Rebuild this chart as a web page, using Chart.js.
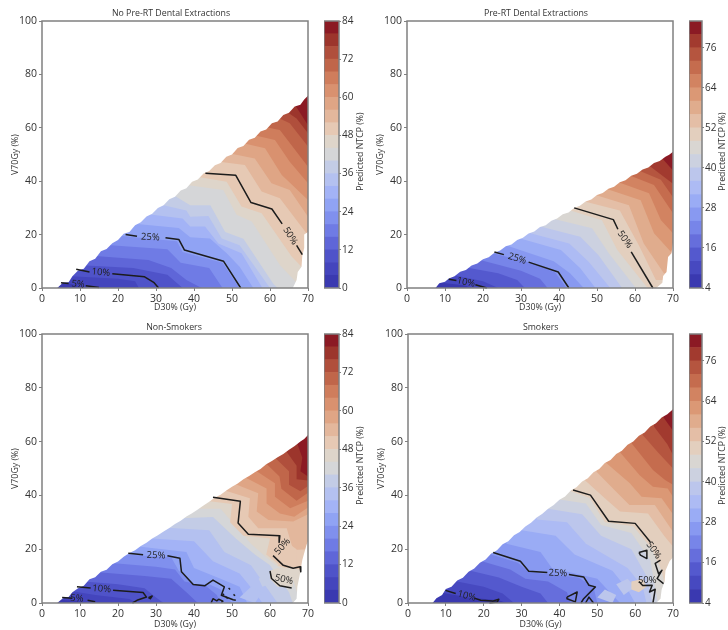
<!DOCTYPE html>
<html><head><meta charset="utf-8">
<style>html,body{margin:0;background:#fff;width:728px;height:630px;overflow:hidden}canvas{position:absolute;filter:blur(0.4px)}</style>
<script src="https://cdn.jsdelivr.net/npm/chart.js@4"></script></head><body>
<script>
const xTicks=[0,10,20,30,40,50,60,70];
const yTicks=[0,20,40,60,80,100];
const ticksA=[0,12,24,36,48,60,72,84];
const ticksB=[4,16,28,40,52,64,76];
const levelsA=[0,4,8,12,16,20,24,28,32,36,40,44,48,52,56,60,64,68,72,76,80,84];
const levelsB=[4,8,12,16,20,24,28,32,36,40,44,48,52,56,60,64,68,72,76,80,84];
const colorsA=['#3a39b0','#4445bd','#4f53c9','#5f66d8','#6f7be5','#8090ee','#90a3f4','#a3b3f6','#b4c1f0','#c3cce6','#d5d6d8','#ded5ca','#e6c9b4','#e3b79c','#dfa585','#d9916f','#cf7d5c','#c0664a','#b04f3c','#9c352c','#8b1a24'];
const colorsB=['#3a39b0','#4749c0','#5459ce','#666edc','#7785e9','#8899f1','#9aacf5','#adbbf4','#bcc6ec','#ccd1e0','#d9d6d2','#e3cfbe','#e4bea6','#e0ac8d','#db9875','#d28361','#c56c4e','#b5553f','#a23a2f','#8b1a24'];
const panelTitles=['No Pre-RT Dental Extractions','Pre-RT Dental Extractions','Non-Smokers','Smokers'];

const p1Edge=[2.7,0,4,0,5.5,2,7,2.2,8,4.4,9.5,6.6,11,7.2,12.5,10,14,11,15.5,13.8,17,14.6,18.5,16.8,20,18,21.5,20.3,23,21,24.5,23.5,26,24.6,27.5,26.8,29,27.8,30.5,30,32,31,33.5,33.2,35,34.2,36.5,36.5,38,37.4,39.5,39.8,41,40.6,42.5,42.9,44,43.8,45.5,46,47,46.8,48.5,49.2,50,50,51.5,52.4,53,53.2,54.5,55.5,56,56.3,57.5,58.6,59,59.4,60.5,61.7,62,62.4,63.5,64.8,65,65.6,66.5,68,68,68.6,69,70.6,70,72];
const p1Notch=[66,0,67,3,67.3,6,68.3,8,68.5,12,69,15,69,20,70,21];
const p1Bands=[[0,0],
[4.5,2.5,9,1,11,0],[6.5,4.5,20,3.5,24.5,2.5,25.5,0],[10.5,8.5,24,7.5,33,5,37,0],[14,12,28,10.5,34,7.5,38,3,42,0],
[18,16,33,14.5,36.5,9.5,44,7.5,47.5,0],[21,19.5,35.5,17.5,37,13.5,47.5,9.5,52,0],[25,24,36,22.5,39,19,44.2,18.5,48.6,13,52,8,55.6,0],
[28.5,27.5,37,26,39,23,42.9,23,46.4,16.7,52.5,13,58,0],[32,31,38,29,39,26.7,43.8,27,47.3,18.5,52,16,60,0],[35,34.5,39,31,44.3,31,48.2,21,53,18.4,60.9,1.5,62,0],
[38.5,38.5,47.7,36.7,51.2,27.4,55.2,24.9,62.6,8.6,67,2],[41.6,41.5,48.6,39.8,52.5,30.5,57.8,28,65.7,11.8,68.3,8],[46.7,47.3,53.4,46.1,57.8,36.1,62.6,33.6,69.6,20.5],
[49.5,50.4,56,48.5,60.4,39.2,65.2,36.7,70,26.7],[53,54.2,58.7,52.3,63.1,42.3,70,33],[55.6,57.3,61.3,55.4,65.2,47.3,70,39.2],[58.3,60.4,62.6,59.2,70,45.4],
[61.7,64,65.2,61.7,70,53],[64.4,66,67,63.5,70,58],[66.6,68.5,70,61]];
const p1Lines=[[5,2,7,1.7],[11.5,0.8,15,0.2],[9,7,12.5,6],[18.5,5.3,27,4.2,29.5,2,30.7,0],[22,20,25,19.4],[32.5,18.8,36,18.2,37.5,14.2,47.8,10,52.3,0],[43,43,51,42.2,55,32,60.5,29.6,63.2,24],[67,16,68.5,12.5]];
const p1Labels=['5%','10%','25%','50%'];
const p1LabelPos=[9.5,1.4,15.5,5.8,28.5,19,65.3,19.5];
const p1LabelRot=[6,6,3,58];
const p1Patches=[];

const p2Edge=[6.5,0,7.5,0,8.5,1.8,10,2.3,11,3.6,12.5,4.4,14,6.1,15.5,6.7,17,8.4,18.5,9.2,20,10.8,21.5,11.5,23,13.2,24.5,14,26,15.6,27.5,16.3,29,18,30.5,18.8,32,20.4,33.5,21.2,35,22.8,36.5,23.5,38,25.2,39.5,26,41,27.6,42.5,28.3,44,30,45.5,30.8,47,32.4,48.5,33.1,50,34.8,51.5,35.6,53,37.2,54.5,37.9,56,39.6,57.5,40.4,59,42,60.5,42.8,62,44.4,63.5,45.1,65,46.8,66.5,47.6,68,49.2,69,49.9,70,51];
const p2Notch=[65.6,0,67.2,2,67.4,4.5,68.3,6,68.7,11.6,69.6,13,70,17];
const p2Bands=[[0,0],
[9,2,15,1,17,0],[12.5,4.8,20,2.5,24,0],[16,7.6,24,5.5,29,3,31,0],[19.5,10.4,30,6.5,35,3.5,37,0],[22.5,13,33,9.3,39,5.8,42,0],
[26,16,38.6,10,42.9,5.5,46.5,0],[29.8,18.5,40.5,14.2,45.6,7.4,49.6,0],[32.5,20.5,42.7,16.7,47.8,9.8,53.5,0],[35.1,23,45.6,19.2,50.4,12.3,56.6,0],[38.2,26,48.7,22.4,53.1,13,60.2,0],
[41.3,29.8,51.3,25.4,55.3,14.3,63.3,0],[47,32.3,56,29,61,16,65.5,3],[49.6,34.8,58.4,31,62.3,16.7,67.6,5.5],[52.2,37.3,61.5,32.9,65,20.5,69.8,13],[55.3,39.8,63.7,35.5,66.8,25.5,70,20.5],
[58.3,42.3,65,38.6,70,28],[61,44,66.8,40.5,70,34],[63.6,46,70,39],[67.2,48.5,70,44]];
const p2Lines=[[11,3.3,13,2.8],[18,1.2,21,0],[23,13.5,25.5,12.5],[32,9.7,39.8,6,42.6,0],[44,30,54.3,25.6,55.5,22],[59,13.5,64.7,0]];
const p2Labels=['10%','25%','50%'];
const p2LabelPos=[15.5,2.1,29,11,57.3,18.2];
const p2LabelRot=[12,17,55];
const p2Patches=[];

const p3Edge=[2.7,0,4,0,5.5,1.8,7,2.2,8,4,9.5,5.5,11,6.4,12.5,8.8,14,9.6,15.5,11.6,17,12.4,18.5,14.4,20,15.4,21.5,17.2,23,18.6,24.5,19.6,26,21.2,27.5,22.4,29,24,30.5,25.2,32,26.6,33.5,27.9,35,29.4,36.5,30.6,38,32.2,39.5,33.4,41,34.8,42.5,36.2,44,37.6,45.5,39.2,47,40.2,48.5,41.8,50,43.2,51.5,44.4,53,46,54.5,47.2,56,48.6,57.5,49.8,59,51.6,60.5,52.8,62,54.2,63.5,55.4,65,57,66.5,58.4,68,60,69,61,70,62.5];
const p3Notch=[66,0,67,1.6,67.2,6,67.9,11,68.5,16,69.6,21.6,70,23];
const p3Bands=[[0,0],
[4,1.2,9,0.8,12,0],[7.5,4.5,14,3,23,1.5,25,0],[11,8,20,7,27,5.5,30,2,32,0],[14,11.5,27,10,34,9,38,4,41,0],[17.5,15,30,13.5,35,12.5,37.5,8,43,6.5,46,3,47,0],
[22,18,34,17,36,12,40,7,44,7,47,5,50,0],[25.5,21,38,19,40,13,47,9,52,6,54,0],[29,24,40,23,45,15.5,52,11,56,4,58,0],[33,28,44,27,48,19,55,14,58,8,62,0],
[36.5,31.5,45,32,51,24,56,18,60,14,65,4,66,0],[40,35,47,35,51,28.5,55,22,59,17,66,9,68,0],[43,38,50,36.8,49.5,30,53,25,60,24,59,18,63,13.5,68,12.5],
[47.7,42,54.7,38.9,54.3,32.1,56.9,27.8,64.4,27.8,66.1,19.7,70,20],[50.3,44.5,56.9,40.8,56.5,34,59.6,30.9,66.1,30.3,70,33],[53,47,59.1,42.6,59.1,37,62.6,33.3,66.4,32.1,70,35.5],[56,49.4,61.3,44.5,61.3,39.5,65.3,35.2,70,38],
[58.5,52.5,62.5,47,63,42.5,67,38,70,41],[61,54.5,65,49,65,44,68,41.5,70,43.5],[64,57,67,51,67,46,70,45.5],[67,60,68.5,54,68,49,70,47]];
const p3Lines=[[5.3,2,8,1.8],[12,1,14,0.5],[9.2,6,12.8,5.6],[18.7,4.7,26.6,3.9,27.5,2.2,25,1,23.8,0],[28,2,29,2.6,28.5,1.6,28,2],
[22.7,18.5,26.6,17.9],[33,17.6,36.3,16.6,36.7,11.6,39.8,6.9,42.8,6.4,45,8.5,48,6,47.2,2.9,50.3,1.2,51,1],[44.5,0,45,1.6,46,0.8,46.5,1.4,47.6,0.7,47.2,0.2],[49.1,5.6,49.5,5],[50.4,3.2,50.8,2.7],[47.5,3.4,47.9,3],[48.4,2.2,48.9,1.7],
[45,39.3,52.2,37.8,51.6,29.7,54.3,25.6,62.6,25,62.4,22.5],[60.8,17.6,63.5,14,66.1,12.9,67.9,13.5,68.1,11.6],[60,11.9,60.4,9.1,62.6,6.4,65.7,5.6]];
const p3Labels=['5%','10%','25%','50%','50%'];
const p3LabelPos=[9.2,1.7,15.7,5.2,30,17.7,63.3,21,63.7,8.7];
const p3LabelRot=[5,5,2,-48,14];
const p3Patches=[[11,[60,12,62,13,66,11,66,6,62,6,60,9]],[12,[60,11,63,12,64.5,10,65,7,62,7]],[12,[62,14,64,18,65,22,67,20,67,14,64,13]],[8,[52,2,55,6,58,4,56,0]],[9,[57,9,60,12,62,8,58,6]]];

const p4Edge=[5.5,0,6.5,0,7.5,1.8,9,3,10,5.2,11.5,6,13,8.4,14.5,9.4,16,11.6,17.5,12.8,19,15,20.5,16.2,22,18.4,23.5,19.6,25,21.8,26.5,23,28,25.2,29.5,26.4,31,28.4,32.5,29.8,34,31.8,35.5,33.2,37,35,38.5,36.4,40,38.4,41.5,39.6,43,41.8,44.5,43,46,45.2,47.5,46.4,49,48.6,50.5,49.8,52,52,53.5,53.2,55,55.4,56.5,56.6,58,58.8,59.5,60,61,62.2,62.5,63.4,64,65.6,65.5,66.8,67,69,68.5,70.2,70,72];
const p4Notch=[65.5,0,66.7,1.6,67,5,67.8,8,68,12,69.1,15.5,70,17];
const p4Bands=[[0,0],
[9,3.8,16,2,24,1,26,0],[13,8,20,6,25,3.5,28,0],[16.5,12,24,9.5,30,6,35,3.5,37,0],[19.5,15.5,27,12.5,31,9,37,8,42,4,43,0],[22,18,29,15,32,11.5,45,9.5,49,6,50,0],
[26,22,35,19,38,13,50,9,54,3,56,0],[30,27,39,25,44,18,54,12,58,5,60,0],[34,31,42,30,47,22,58,13,62,6,63,0],[37,35,46,33,51,25,59,20,63,10,64.5,0],[40,38.5,47,37,51,29,59,26,64,16,65,8,66,0],
[43,41.5,48,39,52,30,59.5,28.5,64.5,20,67,12,68,6],[46.6,45.8,52,38.9,56,34,63.4,33.3,67.8,24.7,70,21],[49.8,48.8,55,41.4,58.5,36.4,65.2,36.4,70,26.5],[52,52.5,58.6,44.5,61.7,39.5,67,38.9,70,33],[56,56,61.2,47.5,64.7,43.2,68.6,42.6,70,39.5],
[59,59.5,64.7,49.4,67.9,45.7,70,44],[62,62.5,66,56,70,50],[65,65.5,68.5,59,70,55],[67.5,69,70,64]];
const p4Lines=[[9.9,4.7,12.6,3.5],[17.5,1.8,19.2,1,22.3,0.7,24,1.4,23.6,0.4,21.5,0],[22.5,18.8,29.7,15.5,31.9,11.8,36.8,11.3],[42.5,10.6,46.4,9.7,47.8,6.6,49.5,6,46.4,1.6,45.7,0],
[42,2.2,44.7,4.1,44.2,0.4,42,1.6,42,2.2],[46.9,0,47.8,2.2,49,0],[43.6,42,48.2,40.1,53,30.4,60,29.6,64,22.7],[66.7,15.9,65.3,14.7,66.2,10.9,67.1,12.2,65.8,9.1,67.5,7.2],
[61,18.8,63.1,19.6,63.1,16.5,61.4,17.8,61,18.8],[61,8,62,6.5,64.5,6.6,63.8,4.1,65.3,5.1,64.9,1.6,64.7,0]];
const p4Labels=['10%','25%','50%','50%'];
const p4LabelPos=[15.5,2.6,39.6,11.1,64.9,19.6,63.2,8.5];
const p4LabelRot=[14,2,55,0];
const p4Patches=[[11,[59,8,62,9,63,6,61,4,59,5]],[8,[50,2,52,5,55,3,54,0]],[8,[55,7,58,9,60,6,57,3]]];

const frames=[
 {cx:0,cy:0,l:42,t:21,w:266,h:267,cbx:324,cbw:15,tx:171},
 {cx:365,cy:0,l:42,t:21,w:266,h:267,cbx:689,cbw:13,tx:171},
 {cx:0,cy:314,l:42,t:20,w:266,h:269,cbx:324,cbw:15,tx:174},
 {cx:366,cy:314,l:42,t:20,w:265,h:269,cbx:689,cbw:13,tx:174.7}];
const panelData=[
 [p1Bands,p1Edge,p1Notch,p1Lines,p1Labels,p1LabelPos,p1LabelRot,p1Patches,colorsA,levelsA,ticksA],
 [p2Bands,p2Edge,p2Notch,p2Lines,p2Labels,p2LabelPos,p2LabelRot,p2Patches,colorsB,levelsB,ticksB],
 [p3Bands,p3Edge,p3Notch,p3Lines,p3Labels,p3LabelPos,p3LabelRot,p3Patches,colorsA,levelsA,ticksA],
 [p4Bands,p4Edge,p4Notch,p4Lines,p4Labels,p4LabelPos,p4LabelRot,p4Patches,colorsB,levelsB,ticksB]];

const FONT='"Open Sans"',INK='#333',FRAME='#808080';
const pts=a=>{const r=[];for(let i=0;i<a.length;i+=2)r.push({x:a[i],y:a[i+1]});return r;};
const poly=(a,color)=>({type:'scatter',data:pts(a),showLine:true,fill:'shape',backgroundColor:color,borderColor:color,borderWidth:0,pointRadius:0,tension:0,clip:true});

const annotate={id:'annotate',afterDraw(chart,_,o){
  const c=chart.ctx,a=chart.chartArea;
  if(o.frame){c.save();c.strokeStyle=FRAME;c.lineWidth=1.5;c.strokeRect(a.left,a.top,a.width,a.height);c.restore();}
  (o.texts||[]).forEach(t=>{
    c.save();
    const px=t.px!==undefined?t.px:chart.scales.x.getPixelForValue(t.x);
    const py=t.py!==undefined?t.py:chart.scales.y.getPixelForValue(t.y);
    c.translate(px,py);c.rotate(t.rot*Math.PI/180);
    c.font=t.size+'px '+FONT;c.fillStyle=t.color||'#222';c.textAlign='center';c.textBaseline='middle';
    c.fillText(t.text,0,0);c.restore();
  });
}};

function addCanvas(x,y,w,h){const k=document.createElement('canvas');k.width=w;k.height=h;k.style.cssText=`left:${x}px;top:${y}px;width:${w}px;height:${h}px`;document.body.appendChild(k);return k;}

panelData.forEach((d,i)=>{
  const [bands,edge,notch,lines,labels,lpos,lrot,patches,colors,levels,cticks]=d;
  const f=frames[i];
  const bottomH=i<2?28:27;
  const k=addCanvas(f.cx,f.cy,f.l+f.w+10,f.t+f.h+bottomH);
  const ds=[];
  lines.forEach(a=>ds.push({type:'scatter',data:pts(a),showLine:true,fill:false,borderColor:'#1c1c1c',borderWidth:1.5,pointRadius:0,tension:0,borderJoinStyle:'round',clip:false}));
  ds.push(poly([...edge,70,100,0,100,0,0],'#fff'));
  ds.push(poly([...notch,70,0],'#fff'));
  patches.forEach(p=>ds.push(poly(p[1],colors[p[0]])));
  for(let b=bands.length-1;b>=0;b--){
    const a=bands[b];const n=a.length;
    ds.push(poly([...a,70,a[n-1],70,100,a[0],100],colors[b]));
  }
  const texts=labels.map((t,j)=>({text:t,x:lpos[2*j],y:lpos[2*j+1],rot:lrot[j],size:9.5}));
  texts.push({text:panelTitles[i],px:f.tx,py:13,rot:0,size:8.8,color:INK});
  new Chart(k,{type:'scatter',data:{datasets:ds},plugins:[annotate],options:{
    responsive:false,animation:false,events:[],
    layout:{padding:{right:10,left:0,top:f.t,bottom:0}},
    plugins:{legend:{display:false},tooltip:{enabled:false},title:{display:false},
      annotate:{frame:true,texts}},
    scales:{
      x:{type:'linear',min:0,max:70,afterBuildTicks:s=>{s.ticks=xTicks.map(v=>({value:v}));},
        afterFit:s=>{s.height=bottomH;},
        grid:{display:true,drawOnChartArea:false,drawTicks:true,tickLength:3,color:FRAME},border:{display:false},
        ticks:{color:INK,font:{family:FONT,size:10.5},padding:2,maxRotation:0,autoSkip:false},
        title:{display:true,text:'D30% (Gy)',color:INK,font:{family:FONT,size:8.8,lineHeight:1.2},padding:{top:0,bottom:i<2?3:0}}},
      y:{type:'linear',min:0,max:100,afterBuildTicks:s=>{s.ticks=yTicks.map(v=>({value:v}));},
        afterFit:s=>{s.width=f.l;},
        grid:{display:true,drawOnChartArea:false,drawTicks:true,tickLength:3,color:FRAME},border:{display:false},
        ticks:{color:INK,font:{family:FONT,size:10.5},padding:2,autoSkip:false},
        title:{display:true,text:'V70Gy (%)',color:INK,font:{family:FONT,size:8.8,lineHeight:1.2},padding:{top:10,bottom:0}}}
    }}});

  const kb=addCanvas(f.cbx,f.cy+f.t-8,i%2?39:40,f.h+16);
  const bars=colors.map((c,j)=>({data:[[levels[j],levels[j+1]]],backgroundColor:c,borderWidth:0,categoryPercentage:1,barPercentage:1}));
  new Chart(kb,{type:'bar',data:{labels:['NTCP'],datasets:bars},plugins:[annotate],options:{
    responsive:false,animation:false,events:[],
    layout:{padding:{top:8,bottom:8,left:0,right:0}},
    plugins:{legend:{display:false},tooltip:{enabled:false},title:{display:false},
      annotate:{frame:true,texts:[{text:'Predicted NTCP (%)',px:i%2?33.5:36.5,py:(f.h+16)/2-3,rot:-90,size:8.8,color:INK}]}},
    scales:{
      x:{display:false,stacked:true},
      y:{position:'right',min:levels[0],max:84,afterBuildTicks:s=>{s.ticks=cticks.map(v=>({value:v}));},
        afterFit:s=>{s.width=(i%2?39:40)-f.cbw;},
        grid:{display:true,drawOnChartArea:false,drawTicks:true,tickLength:2,color:FRAME},border:{display:false},
        ticks:{color:INK,font:{family:FONT,size:10},padding:1,autoSkip:false}}
    }}});
});
</script></body></html>
